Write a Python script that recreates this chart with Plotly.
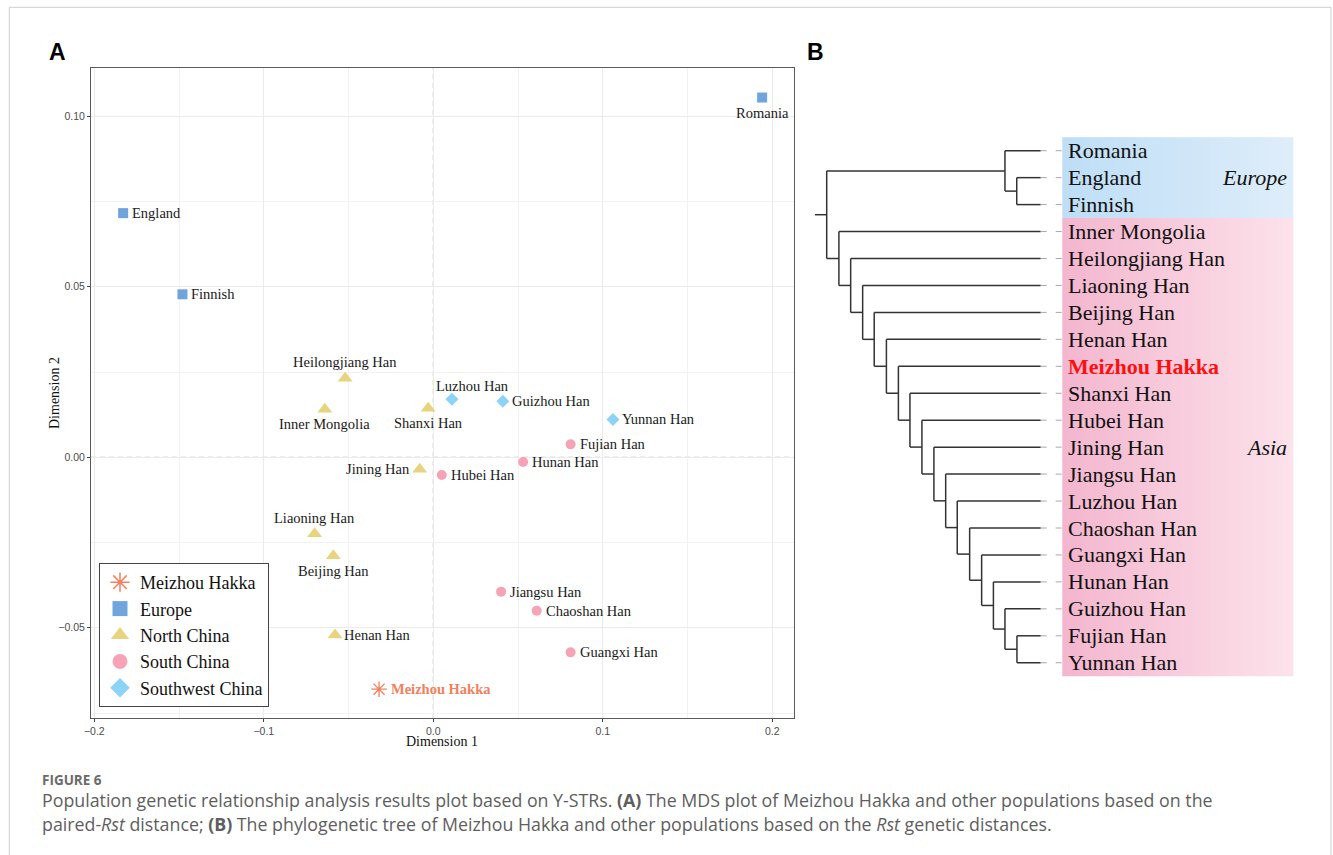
import plotly.graph_objects as go

W, H = 1333, 855

# ---------------- Panel A: MDS on paired-Rst ----------------
pop_names = ["Romania", "England", "Finnish", "Heilongjiang Han", "Inner Mongolia",
             "Shanxi Han", "Jining Han", "Liaoning Han", "Beijing Han", "Henan Han",
             "Meizhou Hakka", "Luzhou Han", "Guizhou Han", "Yunnan Han", "Fujian Han",
             "Hunan Han", "Hubei Han", "Jiangsu Han", "Chaoshan Han", "Guangxi Han"]
dim1 = [0.194, -0.183, -0.148, -0.052, -0.064,
        -0.003, -0.008, -0.070, -0.059, -0.058,
        -0.032, 0.011, 0.041, 0.106, 0.081,
        0.053, 0.005, 0.040, 0.061, 0.081]
dim2 = [0.1055, 0.0716, 0.0478, 0.0232, 0.0141,
        0.0144, -0.0035, -0.0224, -0.0289, -0.0521,
        -0.0680, 0.0170, 0.0164, 0.0111, 0.0038,
        -0.0014, -0.0052, -0.0394, -0.0450, -0.0572]
pop_group = ["Europe", "Europe", "Europe", "North China", "North China",
             "North China", "North China", "North China", "North China", "North China",
             "Meizhou Hakka", "Southwest China", "Southwest China", "Southwest China", "South China",
             "South China", "South China", "South China", "South China", "South China"]

group_order = ["Meizhou Hakka", "Europe", "North China", "South China", "Southwest China"]

# ---------------- Panel B: Rst tree ----------------
tree_leaves = ["Romania", "England", "Finnish", "Inner Mongolia", "Heilongjiang Han",
               "Liaoning Han", "Beijing Han", "Henan Han", "Meizhou Hakka", "Shanxi Han",
               "Hubei Han", "Jining Han", "Jiangsu Han", "Luzhou Han", "Chaoshan Han",
               "Guangxi Han", "Hunan Han", "Guizhou Han", "Fujian Han", "Yunnan Han"]
# hclust-style merges: strings are leaves, integers refer to an earlier merge (1-based)
tree_merge = [("Fujian Han", "Yunnan Han"), ("Guizhou Han", 1), ("Hunan Han", 2),
              ("Guangxi Han", 3), ("Chaoshan Han", 4), ("Luzhou Han", 5),
              ("Jiangsu Han", 6), ("Jining Han", 7), ("Hubei Han", 8),
              ("Shanxi Han", 9), ("Meizhou Hakka", 10), ("Henan Han", 11),
              ("Beijing Han", 12), ("Liaoning Han", 13), ("Heilongjiang Han", 14),
              ("Inner Mongolia", 15), ("England", "Finnish"), ("Romania", 17), (18, 16)]
tree_height = [0.0111, 0.0167, 0.0221, 0.0276, 0.0332, 0.0390, 0.0444, 0.0499,
               0.0555, 0.0611, 0.0665, 0.0721, 0.0778, 0.0832, 0.0888, 0.0943,
               0.0112, 0.0167, 0.1000]
clades = ["Europe", "Asia"]
clade_first = ["Romania", "Inner Mongolia"]
clade_last = ["Finnish", "Yunnan Han"]
clade_label_row = ["England", "Jining Han"]

# ---------------- styling ----------------
SERIF = "Liberation Serif"
SANS = "Liberation Sans"
group_style = {
    "Meizhou Hakka": dict(symbol="asterisk-open", color="#F2805E", size=13, legend_size=16),
    "Europe": dict(symbol="square", color="#6FA5DC", size=10, legend_size=15),
    "North China": dict(symbol="triangle-up", color="#E8D47E", size=13, legend_size=16),
    "South China": dict(symbol="circle", color="#F7A3B7", size=10, legend_size=15),
    "Southwest China": dict(symbol="diamond", color="#8DD3F5", size=10, legend_size=15),
}
label_side = {"Romania": "b", "Heilongjiang Han": "t", "Inner Mongolia": "b",
              "Shanxi Han": "b", "Jining Han": "l", "Liaoning Han": "t",
              "Beijing Han": "b", "Luzhou Han": "tr"}


def px(x):
    return x / W


def py(y):
    return 1 - y / H


# plot-area geometry of panel A (pixels)
A_L, A_R, A_T, A_B = 91, 794, 68, 718
xa_range = [-0.20195, 0.2128]
ya_range = [-0.07645, 0.11416]

fig = go.Figure()

# points, one trace per group
for g in group_order:
    st = group_style[g]
    xs = [dim1[i] for i in range(len(pop_names)) if pop_group[i] == g]
    ys = [dim2[i] for i in range(len(pop_names)) if pop_group[i] == g]
    marker = dict(symbol=st["symbol"], size=st["size"], color=st["color"])
    if st["symbol"].startswith("asterisk"):
        marker["line"] = dict(color=st["color"], width=1.3)
    else:
        marker["line"] = dict(width=0)
    fig.add_trace(go.Scatter(x=xs, y=ys, mode="markers", marker=marker,
                             showlegend=False, hoverinfo="skip",
                             xaxis="x", yaxis="y"))

# legend entries with larger keys
for g in group_order:
    st = group_style[g]
    marker = dict(symbol=st["symbol"], size=st["legend_size"], color=st["color"])
    if st["symbol"].startswith("asterisk"):
        marker["line"] = dict(color=st["color"], width=1.5)
    else:
        marker["line"] = dict(width=0)
    fig.add_trace(go.Scatter(x=[None], y=[None], mode="markers", marker=marker,
                             name=g, showlegend=True, xaxis="x", yaxis="y"))

annotations = []
for name, x, y, g in zip(pop_names, dim1, dim2, pop_group):
    side = label_side.get(name, "r")
    txt = name
    color = "#1a1a1a"
    if g == "Meizhou Hakka":
        txt = "<b>" + name + "</b>"
        color = "#F2805E"
    a = dict(x=x, y=y, xref="x", yref="y", text=txt, showarrow=False,
             font=dict(family=SERIF, size=14.5, color=color), yanchor="middle")
    if side == "r":
        a.update(xanchor="left", xshift=7 if g != "Meizhou Hakka" else 10)
    elif side == "l":
        a.update(xanchor="right", xshift=-8)
    elif side == "t":
        a.update(xanchor="center", yshift=16)
    elif side == "tr":
        a.update(xanchor="center", yshift=13, xshift=21)
    elif side == "b":
        a.update(xanchor="center", yshift=-15)
    annotations.append(a)

# dashed reference lines through the origin
shapes = [
    dict(type="line", xref="x", yref="y domain", x0=0, x1=0, y0=0, y1=1,
         line=dict(color="#a6a6a6", width=1, dash="5px,4px"), layer="below"),
    dict(type="line", xref="x domain", yref="y", x0=0, x1=1, y0=0, y1=0,
         line=dict(color="#a6a6a6", width=1, dash="5px,4px"), layer="below"),
]

# ---------------- tree layout ----------------
leaf_y = {name: i for i, name in enumerate(tree_leaves)}
node_pos = []  # (height, y) for each merge


def child_pos(c):
    if isinstance(c, str):
        return 0.0, float(leaf_y[c])
    return node_pos[c - 1]


tx, ty = [], []
for (a, b), h in zip(tree_merge, tree_height):
    ha, ya = child_pos(a)
    hb, yb = child_pos(b)
    tx += [h, h, None, h, ha, None, h, hb, None]
    ty += [ya, yb, None, ya, ya, None, yb, yb, None]
    node_pos.append((h, (ya + yb) / 2))

ROOT_EDGE = 0.0055
root_h, root_y = node_pos[-1]
tx += [root_h + ROOT_EDGE, root_h, None]
ty += [root_y, root_y, None]

fig.add_trace(go.Scatter(x=tx, y=ty, mode="lines", line=dict(color="#333333", width=1.5),
                         showlegend=False, hoverinfo="skip", xaxis="x2", yaxis="y2"))

# geometry of panel B (pixels)
TIP_PX, UNIT_PX = 1040.7, 2140.0
B_L, B_R = 800, 1300
ROW0_PX, ROW_PX = 150.7, 26.95
B_T, B_B = 100, 720
xb_range = [(TIP_PX - B_L) / UNIT_PX, -(B_R - TIP_PX) / UNIT_PX]
yb_range = [(B_B - ROW0_PX) / ROW_PX, (B_T - ROW0_PX) / ROW_PX]

BOX_L, BOX_R = 1062.3, 1292.7
lead_end = -(BOX_L - TIP_PX) / UNIT_PX
lx, ly = [], []
for name in tree_leaves:
    lx += [0.0, lead_end, None]
    ly += [leaf_y[name], leaf_y[name], None]
fig.add_trace(go.Scatter(x=lx, y=ly, mode="lines",
                         line=dict(color="#a8a8a8", width=1, dash="6px,9px"),
                         showlegend=False, hoverinfo="skip", xaxis="x2", yaxis="y2"))

# gradient clade backgrounds
clade_colors = {"Europe": ((190, 222, 246), (222, 237, 250)),
                "Asia": ((243, 182, 206), (252, 226, 234))}
N_STRIPS = 48
for c, first, last in zip(clades, clade_first, clade_last):
    (r0, g0, b0), (r1, g1, b1) = clade_colors[c]
    y0 = leaf_y[first] - 0.5
    y1 = leaf_y[last] + 0.5
    step = (BOX_R - BOX_L) / N_STRIPS
    for k in range(N_STRIPS):
        t = k / (N_STRIPS - 1)
        col = "rgb(%d,%d,%d)" % (round(r0 + (r1 - r0) * t), round(g0 + (g1 - g0) * t),
                                 round(b0 + (b1 - b0) * t))
        shapes.append(dict(type="rect", xref="paper", yref="y2",
                           x0=px(BOX_L + k * step), x1=px(BOX_L + (k + 1) * step + 0.6),
                           y0=y0, y1=y1, fillcolor=col, line=dict(width=0), layer="below"))

for name in tree_leaves:
    if name == "Meizhou Hakka":
        txt, col = "<b>" + name + "</b>", "#FF1010"
    else:
        txt, col = name, "#111111"
    annotations.append(dict(x=px(1065.5), y=leaf_y[name], xref="paper", yref="y2",
                            text=txt, showarrow=False, xanchor="left", yanchor="middle",
                            font=dict(family=SERIF, size=22, color=col)))

for c, row in zip(clades, clade_label_row):
    annotations.append(dict(x=px(1289), y=leaf_y[row], xref="paper", yref="y2",
                            text="<i>" + c + "</i>", showarrow=False, xanchor="right",
                            yanchor="middle", font=dict(family=SERIF, size=22, color="#111111")))

# panel letters and axis titles
annotations += [
    dict(x=px(57.5), y=py(52), xref="paper", yref="paper", text="<b>A</b>", showarrow=False,
         xanchor="center", yanchor="middle", font=dict(family=SANS, size=23, color="#000")),
    dict(x=px(815), y=py(52), xref="paper", yref="paper", text="<b>B</b>", showarrow=False,
         xanchor="center", yanchor="middle", font=dict(family=SANS, size=23, color="#000")),
    dict(x=px(442), y=py(741), xref="paper", yref="paper", text="Dimension 1", showarrow=False,
         xanchor="center", yanchor="middle", font=dict(family=SERIF, size=14, color="#111")),
    dict(x=px(54), y=py(393), xref="paper", yref="paper", text="Dimension 2", showarrow=False,
         textangle=-90, xanchor="center", yanchor="middle",
         font=dict(family=SERIF, size=14, color="#111")),
]

# caption
CAP = "Open Sans"
annotations += [
    dict(x=px(40), y=py(779.5), xref="paper", yref="paper", text="<b>FIGURE 6</b>",
         showarrow=False, xanchor="left", yanchor="middle",
         font=dict(family=CAP, size=13.5, color="#6b6b6b")),
    dict(x=px(40), y=py(800), xref="paper", yref="paper",
         text="Population genetic relationship analysis results plot based on Y-STRs. "
              "<b>(A)</b> The MDS plot of Meizhou Hakka and other populations based on the",
         showarrow=False, xanchor="left", yanchor="middle",
         font=dict(family=CAP, size=17.8, color="#5e5e5e")),
    dict(x=px(40), y=py(823.5), xref="paper", yref="paper",
         text="paired-<i>Rst</i> distance; <b>(B)</b> The phylogenetic tree of Meizhou Hakka "
              "and other populations based on the <i>Rst</i> genetic distances.",
         showarrow=False, xanchor="left", yanchor="middle",
         font=dict(family=CAP, size=17.8, color="#5e5e5e")),
]

# outer frame of the figure
shapes.append(dict(type="rect", xref="paper", yref="paper", x0=px(9.3), x1=px(1331),
                   y0=py(875), y1=py(7.3), line=dict(color="#cfcfcf", width=1),
                   fillcolor="rgba(0,0,0,0)", layer="above"))

axis_common = dict(showline=True, mirror=True, linecolor="#5a5a5a", linewidth=1,
                   ticks="outside", ticklen=3, tickcolor="#444", tickwidth=1,
                   tickfont=dict(family=SANS, size=10.5, color="#4d4d4d"),
                   showgrid=True, gridcolor="#ebebeb", gridwidth=1, zeroline=False,
                   automargin=False)

fig.update_layout(
    width=W, height=H,
    margin=dict(l=0, r=0, t=0, b=0),
    paper_bgcolor="white", plot_bgcolor="white",
    xaxis=dict(domain=[px(A_L), px(A_R)], range=xa_range, anchor="y",
               tickvals=[-0.2, -0.1, 0.0, 0.1, 0.2], tickformat=".1f",
               minor=dict(dtick=0.05, tick0=0, showgrid=True, gridcolor="#f2f2f2", gridwidth=1),
               **axis_common),
    yaxis=dict(domain=[py(A_B), py(A_T)], range=ya_range, anchor="x",
               tickvals=[-0.05, 0.0, 0.05, 0.10], tickformat=".2f",
               minor=dict(dtick=0.025, tick0=0, showgrid=True, gridcolor="#f2f2f2", gridwidth=1),
               **axis_common),
    xaxis2=dict(domain=[px(B_L), px(B_R)], range=xb_range, anchor="y2", visible=False,
                automargin=False),
    yaxis2=dict(domain=[py(B_B), py(B_T)], range=yb_range, anchor="x2", visible=False,
                automargin=False),
    legend=dict(x=px(99), y=py(707), xanchor="left", yanchor="bottom",
                bgcolor="white", bordercolor="#444", borderwidth=1,
                font=dict(family=SERIF, size=18, color="#111"),
                tracegroupgap=0, itemsizing="trace"),
    annotations=annotations,
    shapes=shapes,
)

fig.write_html("out.html")
